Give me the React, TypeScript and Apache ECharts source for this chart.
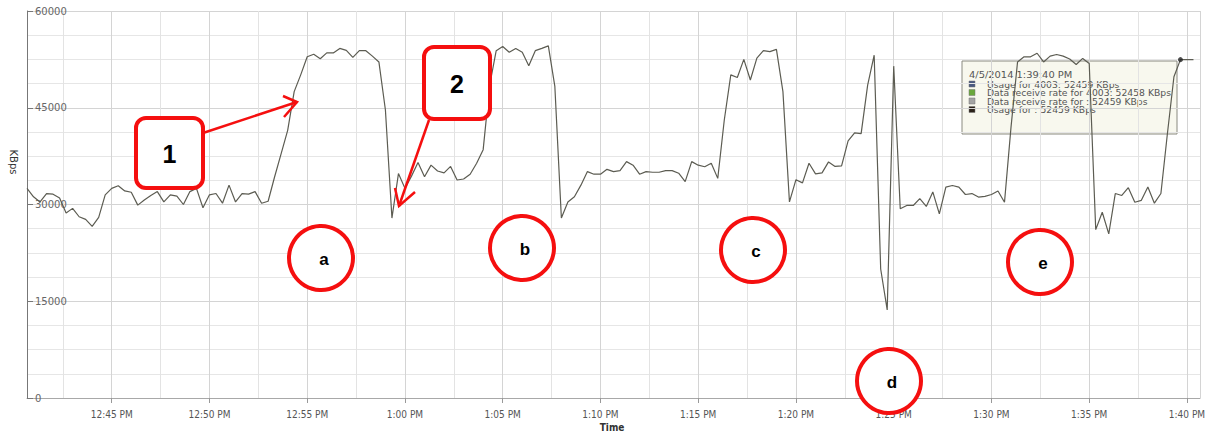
import React, { useEffect, useRef } from "react";
import * as echarts from "echarts";

// ---- data ----
const START_TIME = new Date(2014, 3, 5, 12, 40, 40).getTime();
const END_TIME = new Date(2014, 3, 5, 13, 40, 40).getTime();
const SAMPLE_MS = 20000; // one sample every 20 s
const X_TICK_MS = 5 * 60 * 1000; // labelled ticks
const X_GRID_MS = 150 * 1000; // grid lines every 2.5 min
const Y_MIN = 0;
const Y_MAX = 60000;
const Y_STEP = 15000;

const usageKBps = [
  32500, 31200, 30400, 31700, 31600, 31000, 28700, 29400, 28100, 27700,
  26600, 28000, 31500, 32500, 32900, 32100, 31900, 29900, 30700, 31400,
  32000, 30400, 31500, 31300, 30000, 32000, 32500, 29500, 31500, 31700,
  30200, 33000, 30400, 31700, 31600, 32000, 30200, 30500, 34300, 37900,
  41500, 47500, 50100, 52900, 53300, 52600, 53500, 53500, 54200, 53900,
  52800, 53850, 53850, 53000, 52100, 44650, 27900, 34800, 32500, 34400,
  36500, 34300, 36100, 35200, 34900, 35900, 33800, 33950, 34700, 36400,
  38500, 48500, 53850, 54500, 53600, 54200, 53600, 51500, 53850, 54200,
  54600, 48300, 27900, 30400, 31200, 33000, 35100, 34700, 34700, 35450,
  35100, 35250, 36650, 36100, 34700, 35100, 35000, 35000, 35250, 35250,
  34850, 33550, 36650, 36100, 35850, 36400, 34050, 43100, 50100, 49700,
  52500, 49300, 52700, 53850, 53700, 54050, 47500, 30400, 33850, 33350,
  36400, 34750, 34900, 36600, 35900, 36000, 39850, 41100, 41000, 48500,
  53150, 20000, 13650, 51450, 29350, 29850, 29850, 30900, 29700, 31950,
  28550, 32700, 32950, 32700, 31550, 31700, 31150, 31250, 31550, 32100,
  30350, 42000, 52100, 52900, 52900, 53450, 52100, 53000, 53250, 53000,
  52550, 51700, 52650, 51850, 26100, 28800, 25450, 31700, 31400, 32600,
  30350, 30650, 32700, 30200, 31700, 41000, 49800, 52459, 52450, 52450,
];

const tooltipIndex = 177;
const tooltipTitle = "4/5/2014 1:39:40 PM";
const tooltipRows = [
  { color: "#4a5980", text: "Usage for 4003: 52459 KBps" },
  { color: "#6aa83c", text: "Data receive rate for 4003: 52458 KBps" },
  { color: "#a4a4a4", text: "Data receive rate for : 52459 KBps" },
  { color: "#2b2219", text: "Usage for : 52459 KBps" },
];

const yAxisName = "KBps";
const xAxisName = "Time";

const calloutBoxes = [
  { label: "1", x: 136, y: 118, w: 67, h: 70 },
  { label: "2", x: 424, y: 47, w: 66, h: 72 },
];
const calloutArrows = [
  { from: [203, 133], to: [297, 102], head1: [283, 96], head2: [284, 117] },
  { from: [429, 120], to: [399, 206], head1: [395, 188], head2: [415, 192] },
];
const calloutCircles = [
  { label: "a", cx: 321, cy: 258 },
  { label: "b", cx: 522, cy: 248 },
  { label: "c", cx: 753, cy: 250 },
  { label: "d", cx: 889, cy: 381 },
  { label: "e", cx: 1040, cy: 262 },
];

function fmtTime(val: number) {
  const d = new Date(val);
  if (d.getSeconds() !== 0 || d.getMinutes() % 5 !== 0) return "";
  const h24 = d.getHours();
  const h = h24 % 12 === 0 ? 12 : h24 % 12;
  const m = String(d.getMinutes()).padStart(2, "0");
  return `${h}:${m} ${h24 < 12 ? "AM" : "PM"}`;
}

export default function App() {
  const ref = useRef<HTMLDivElement>(null);

  useEffect(() => {
    if (!ref.current) return;
    const chart = echarts.init(ref.current, undefined, { renderer: "svg" });
    const RED = "#f50f0f";
    const lineData = usageKBps.map((v, i) => [START_TIME + i * SAMPLE_MS, v]);

    const graphics: any[] = [];

    graphics.push({
      type: "text",
      x: 13,
      y: 162,
      rotation: -Math.PI / 2,
      z: 50,
      style: {
        text: yAxisName,
        fill: "#333",
        font: "10px 'DejaVu Sans'",
        align: "center",
        verticalAlign: "middle",
      },
    });
    graphics.push({
      type: "text",
      x: 612,
      y: 427,
      z: 50,
      style: {
        text: xAxisName,
        fill: "#333",
        font: "bold 10px 'DejaVu Sans Condensed'",
        align: "center",
        verticalAlign: "middle",
      },
    });

    const tipChildren: any[] = [
      {
        type: "rect",
        shape: { x: 962, y: 61, width: 215, height: 73 },
        style: { fill: "#f8f8ee", stroke: "#8a8a80", lineWidth: 1 },
      },
      {
        type: "text",
        x: 969,
        y: 74.5,
        scaleX: 1.16,
        style: {
          text: tooltipTitle,
          fill: "#555",
          font: "9.5px 'DejaVu Sans Condensed'",
          verticalAlign: "middle",
        },
      },
    ];
    tooltipRows.forEach((r, k) => {
      const cy = 84.5 + k * 8.5;
      tipChildren.push({
        type: "rect",
        shape: { x: 969, y: cy - 3.5, width: 6, height: 6 },
        style: { fill: r.color, stroke: "#777", lineWidth: 0.5 },
      });
      tipChildren.push({
        type: "text",
        x: 987,
        y: cy,
        scaleX: 1.21,
        style: {
          text: r.text,
          fill: "#555",
          font: "8.5px 'DejaVu Sans Condensed'",
          verticalAlign: "middle",
        },
      });
    });
    graphics.push({ type: "group", z: 1, children: tipChildren });

    calloutBoxes.forEach((b) => {
      graphics.push({
        type: "rect",
        z: 100,
        shape: { x: b.x, y: b.y, width: b.w, height: b.h, r: 10 },
        style: { fill: "#fff", stroke: RED, lineWidth: 4 },
      });
      graphics.push({
        type: "text",
        z: 101,
        x: b.x + b.w / 2,
        y: b.y + b.h / 2 + 1,
        style: {
          text: b.label,
          fill: "#000",
          font: "bold 25px 'Liberation Sans'",
          align: "center",
          verticalAlign: "middle",
        },
      });
    });
    calloutArrows.forEach((a) => {
      graphics.push({
        type: "polyline",
        z: 100,
        shape: { points: [a.from, a.to] },
        style: { stroke: RED, lineWidth: 2.5, fill: null },
      });
      graphics.push({
        type: "polyline",
        z: 100,
        shape: { points: [a.head1, a.to, a.head2] },
        style: { stroke: RED, lineWidth: 2.5, fill: null },
      });
    });
    calloutCircles.forEach((c) => {
      graphics.push({
        type: "circle",
        z: 100,
        shape: { cx: c.cx, cy: c.cy, r: 32 },
        style: { fill: "#fff", stroke: RED, lineWidth: 4 },
      });
      graphics.push({
        type: "text",
        z: 101,
        x: c.cx + 3,
        y: c.cy + 1,
        style: {
          text: c.label,
          fill: "#000",
          font: "bold 17px 'Liberation Sans'",
          align: "center",
          verticalAlign: "middle",
        },
      });
    });

    chart.setOption({
      animation: false,
      backgroundColor: "#fff",
      grid: {
        left: 27,
        right: 10,
        top: 11,
        bottom: 36,
        containLabel: false,
        outerBoundsMode: "none",
      },
      xAxis: [
        {
          // fine grid every 2.5 minutes
          type: "value",
          position: "bottom",
          offset: 0,
          min: START_TIME,
          max: END_TIME,
          minInterval: X_GRID_MS,
          maxInterval: X_GRID_MS,
          axisLine: { show: true, onZero: false, lineStyle: { color: "#a8a8a8", width: 1 } },
          axisTick: { show: false },
          axisLabel: { show: false },
          splitLine: { show: true, lineStyle: { color: "#e3e3e3", width: 1 } },
        },
        {
          // labelled ticks every 5 minutes
          type: "value",
          position: "bottom",
          offset: 0,
          min: START_TIME,
          max: END_TIME,
          minInterval: X_TICK_MS,
          maxInterval: X_TICK_MS,
          axisLine: { show: false, onZero: false },
          axisTick: { show: true, length: 5, lineStyle: { color: "#999" } },
          axisLabel: {
            color: "#555",
            fontSize: 10,
            fontFamily: "DejaVu Sans Condensed",
            margin: 11,
            showMinLabel: false,
            showMaxLabel: false,
            hideOverlap: false,
            formatter: (v: number) => fmtTime(v),
          },
          splitLine: { show: true, lineStyle: { color: "#d4d4d4", width: 1 } },
        },
      ],
      yAxis: {
        type: "value",
        min: Y_MIN,
        max: Y_MAX,
        interval: Y_STEP,
        axisLine: { show: true, lineStyle: { color: "#777", width: 1 } },
        axisTick: { show: true, inside: true, length: 6, lineStyle: { color: "#777" } },
        axisLabel: {
          inside: true,
          color: "#666",
          fontSize: 10,
          fontFamily: "DejaVu Sans",
          margin: 8,
          showMinLabel: true,
          showMaxLabel: true,
          formatter: (v: number) => String(v),
        },
        splitLine: { show: true, lineStyle: { color: "#d4d4d4", width: 1 } },
        minorTick: { show: false, splitNumber: 4 },
        minorSplitLine: { show: true, lineStyle: { color: "#e6e6e6", width: 1 } },
      },
      series: [
        {
          type: "line",
          name: "Usage",
          xAxisIndex: 0,
          z: 2,
          data: lineData,
          showSymbol: false,
          symbol: "none",
          lineStyle: { color: "#5c5c52", width: 1.2 },
          itemStyle: { color: "#5c5c52" },
        },
        {
          type: "scatter",
          name: "Selected",
          xAxisIndex: 0,
          z: 3,
          data: [lineData[tooltipIndex]],
          symbol: "circle",
          symbolSize: 5,
          itemStyle: { color: "#222" },
        },
      ],
      graphic: graphics,
    });

    return () => chart.dispose();
  }, []);

  return (
    <div
      ref={ref}
      style={{ position: "absolute", left: 0, top: 0, width: 1210, height: 434 }}
    />
  );
}
